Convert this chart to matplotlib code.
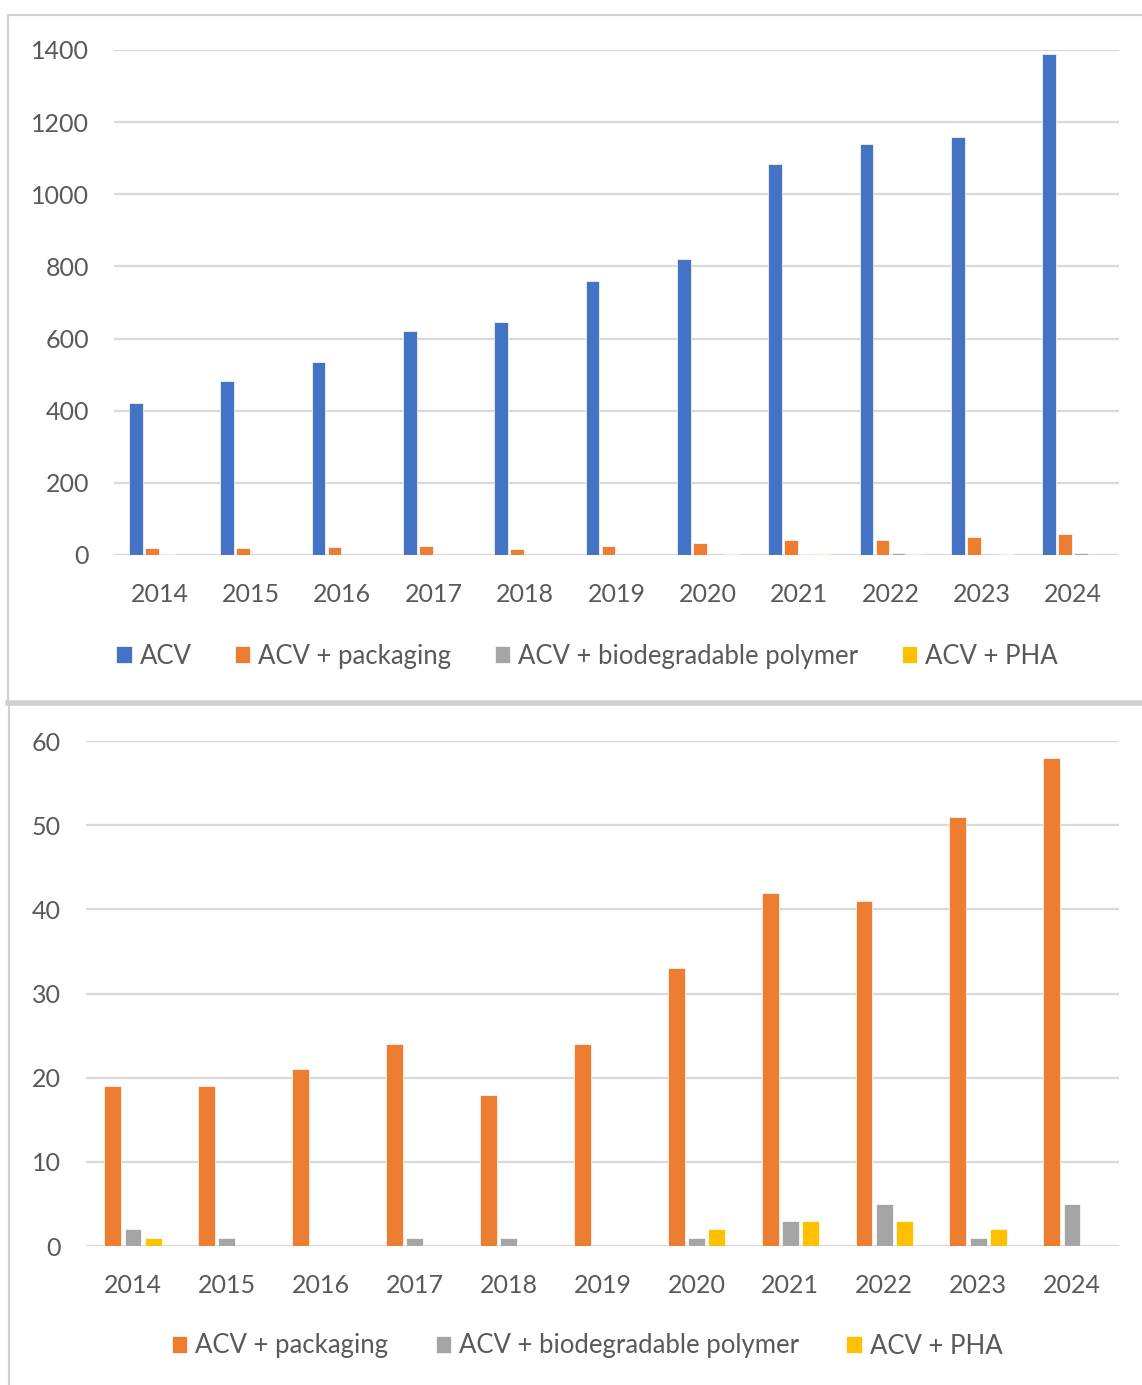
import numpy as np
import matplotlib.pyplot as plt
from matplotlib.lines import Line2D

plt.rcParams['font.family'] = ['Lato', 'DejaVu Sans']

years = ['2014', '2015', '2016', '2017', '2018', '2019', '2020', '2021', '2022', '2023', '2024']
acv = [420, 483, 535, 620, 645, 760, 820, 1085, 1140, 1158, 1390]
acv_packaging = [19, 19, 21, 24, 18, 24, 33, 42, 41, 51, 58]
acv_biopolymer = [2, 1, 0, 1, 1, 0, 1, 3, 5, 1, 5]
acv_pha = [1, 0, 0, 0, 0, 0, 2, 3, 3, 2, 0]

labels = ['ACV', 'ACV + packaging', 'ACV + biodegradable polymer', 'ACV + PHA']
colors = ['#4472C4', '#ED7D31', '#A5A5A5', '#FFC000']
text_color = '#595959'
grid_color = '#D9D9D9'

fig = plt.figure(figsize=(11.42, 13.85), dpi=100)


def style_axes(ax, ymax, step):
    ax.set_xlim(-0.5, len(years) - 0.5)
    ax.set_ylim(0, ymax)
    ax.set_yticks(np.arange(0, ymax + 1, step))
    ax.set_xticks(np.arange(len(years)))
    ax.set_xticklabels(years)
    ax.grid(axis='y', color=grid_color, linewidth=1.6)
    ax.set_axisbelow(True)
    for s in ax.spines.values():
        s.set_visible(False)
    ax.tick_params(axis='both', length=0, labelsize=18, colors=text_color)
    ax.tick_params(axis='y', pad=18)
    ax.tick_params(axis='x', pad=20)


def add_legend(ax, ncol, ycenter, spacing):
    ax.legend(loc='center', bbox_to_anchor=(587 / 1142, 1 - ycenter / 1385),
              bbox_transform=fig.transFigure, ncol=ncol, frameon=False,
              fontsize=18.5, labelcolor=text_color, handlelength=0.6,
              handleheight=0.6, handletextpad=0.3, columnspacing=spacing)


# upper chart: all four series
ax1 = fig.add_axes([114 / 1142, 1 - 555 / 1385, (1119 - 114) / 1142, 505 / 1385])
x = np.arange(len(years))
series1 = [acv, acv_packaging, acv_biopolymer, acv_pha]
for i, (vals, c) in enumerate(zip(series1, colors)):
    ax1.bar(x + (i - 1.5) * 0.175, vals, width=0.15, color=c,
            edgecolor='white', linewidth=0.5, label=labels[i])
style_axes(ax1, 1400, 200)
add_legend(ax1, 4, 656, 1.7)

# lower chart: without plain ACV
ax2 = fig.add_axes([86 / 1142, 1 - 1246 / 1385, (1119 - 86) / 1142, 505 / 1385])
series2 = [acv_packaging, acv_biopolymer, acv_pha]
for i, (vals, c) in enumerate(zip(series2, colors[1:])):
    ax2.bar(x + (i - 1) * 0.215, vals, width=0.18, color=c,
            edgecolor='white', linewidth=0.5, label=labels[i + 1])
style_axes(ax2, 60, 10)
add_legend(ax2, 3, 1346, 1.85)

# panel borders
W, H = 1142, 1385
border = '#D0D0D0'
fig.add_artist(Line2D([8 / W, 1], [1 - 15 / H, 1 - 15 / H], color=border, linewidth=1.5))
fig.add_artist(Line2D([8 / W, 8 / W], [1 - 15 / H, 1 - 703 / H], color=border, linewidth=1.5))
fig.add_artist(Line2D([8 / W, 1], [1 - 703 / H, 1 - 703 / H], color=border, linewidth=4))
fig.add_artist(Line2D([9 / W, 9 / W], [1 - 703 / H, 0], color=border, linewidth=1.5))

fig.savefig('out.png', dpi=100)
